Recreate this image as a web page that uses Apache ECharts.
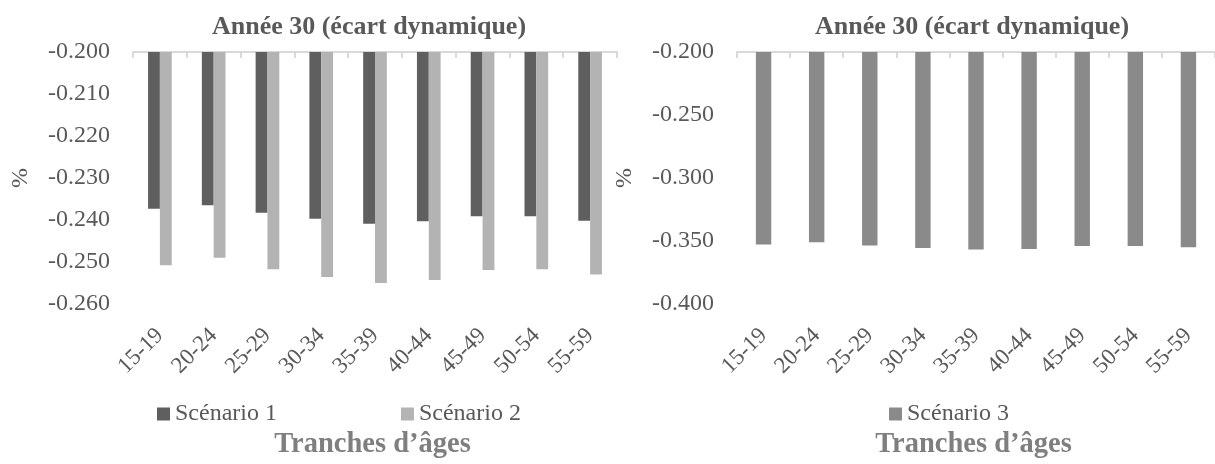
<!DOCTYPE html>
<html>
<head>
<meta charset="utf-8">
<script src="https://cdn.jsdelivr.net/npm/echarts@6/dist/echarts.min.js"></script>
<style>
html,body{margin:0;padding:0;background:#fff;}
#c{width:1215px;height:464px;}
</style>
</head>
<body>
<div id="c"></div>
<script>
var categories = ['15-19','20-24','25-29','30-34','35-39','40-44','45-49','50-54','55-59'];
var scenario1 = [-0.2373, -0.2365, -0.2383, -0.2397, -0.2409, -0.2403, -0.2391, -0.2391, -0.2402];
var scenario2 = [-0.2508, -0.2490, -0.2517, -0.2536, -0.2550, -0.2543, -0.2519, -0.2517, -0.2530];
var scenario3 = [-0.3527, -0.3509, -0.3535, -0.3556, -0.3568, -0.3563, -0.3540, -0.3540, -0.3550];
var chartTitle = 'Année 30 (écart dynamique)';
var xName = 'Tranches d\u2019âges';
var yName = '%';
var leftTicks = {min: -0.26, max: -0.2, interval: 0.01};
var rightTicks = {min: -0.4, max: -0.2, interval: 0.05};

var FONT = '"Liberation Serif", "Times New Roman", serif';
var TXT = '#595959';
var AX = '#d9d9d9';

function topAxis(gi) {
  return {
    type: 'category', gridIndex: gi, data: categories, position: 'top',
    axisLine: {show: true, lineStyle: {color: AX, width: 2}},
    axisTick: {show: true, inside: true, length: 6, lineStyle: {color: AX, width: 2}},
    axisLabel: {show: false}
  };
}
function bottomAxis(gi) {
  return {
    type: 'category', gridIndex: gi, data: categories, position: 'bottom',
    axisLine: {show: false}, axisTick: {show: false},
    axisLabel: {show: true, rotate: 45, margin: 28, color: TXT, fontFamily: FONT, fontSize: 23},
    name: xName, nameLocation: 'middle', nameGap: 126,
    nameTextStyle: {color: '#7f7f7f', fontFamily: FONT, fontSize: 28.5, fontWeight: 'bold', padding: [0, 5, 0, 0]}
  };
}
function valAxis(gi, t) {
  return {
    type: 'value', gridIndex: gi, min: t.min, max: t.max, interval: t.interval,
    axisLine: {show: false}, axisTick: {show: false}, splitLine: {show: false},
    axisLabel: {margin: 23, color: TXT, fontFamily: FONT, fontSize: 24,
      formatter: function (v) { return v.toFixed(3); }},
    name: yName, nameLocation: 'middle', nameRotate: 90, nameGap: 100,
    nameTextStyle: {color: TXT, fontFamily: FONT, fontSize: 24}
  };
}

var chart = echarts.init(document.getElementById('c'), null, {renderer: 'canvas'});
chart.setOption({
  animation: false,
  backgroundColor: '#ffffff',
  title: [
    {text: chartTitle, left: 364, top: 9, textAlign: 'center',
     textStyle: {color: TXT, fontFamily: FONT, fontSize: 26, fontWeight: 'bold'}},
    {text: chartTitle, left: 967, top: 9, textAlign: 'center',
     textStyle: {color: TXT, fontFamily: FONT, fontSize: 26, fontWeight: 'bold'}}
  ],
  legend: [
    {data: ['Scénario 1', 'Scénario 2'], left: 152, top: 396, icon: 'rect', itemWidth: 13, itemHeight: 13,
     itemGap: 124, textStyle: {color: TXT, fontFamily: FONT, fontSize: 24, lineHeight: 26}},
    {data: ['Scénario 3'], left: 884, top: 396, icon: 'rect', itemWidth: 13, itemHeight: 13,
     textStyle: {color: TXT, fontFamily: FONT, fontSize: 24, lineHeight: 26}}
  ],
  grid: [
    {left: 133, top: 52, width: 484, height: 258},
    {left: 737, top: 52, width: 483, height: 258}
  ],
  xAxis: [topAxis(0), bottomAxis(0), topAxis(1), bottomAxis(1)],
  yAxis: [valAxis(0, leftTicks), valAxis(1, rightTicks)],
  series: [
    {name: 'Scénario 1', type: 'bar', xAxisIndex: 0, yAxisIndex: 0, data: scenario1,
     barWidth: '22%', barGap: '0%', itemStyle: {color: '#5f5f5f'}},
    {name: 'Scénario 2', type: 'bar', xAxisIndex: 0, yAxisIndex: 0, data: scenario2,
     barWidth: '22%', barGap: '0%', itemStyle: {color: '#b3b3b3'}},
    {name: 'Scénario 3', type: 'bar', xAxisIndex: 2, yAxisIndex: 1, data: scenario3,
     barWidth: '29%', itemStyle: {color: '#8a8a8a'}}
  ]
});
</script>
</body>
</html>
